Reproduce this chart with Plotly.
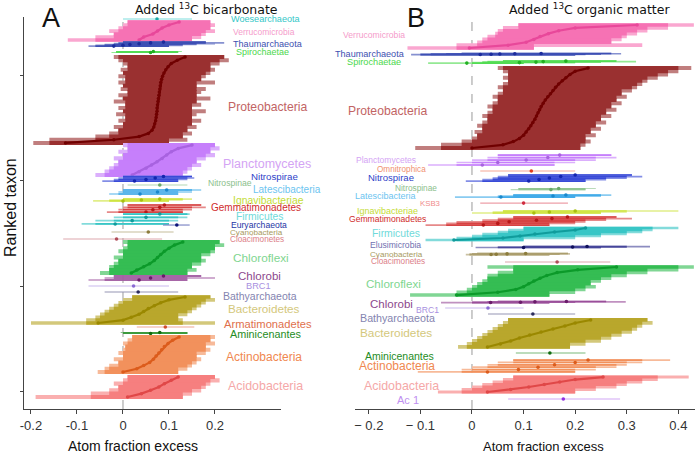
import plotly.graph_objects as go

# ---------------- DATA ----------------
A_TAXA = ["Woesearchaeota", "Verrucomicrobia", "Thaumarchaeota", "Spirochaetae", "Proteobacteria",
          "Planctomycetes", "Nitrospirae", "Nitrospinae", "Latescibacteria", "Ignavibacteriae",
          "Gemmatimonadetes", "Firmicutes", "Euryarchaeota", "Cyanobacteria", "Cloacimonetes",
          "Chloroflexi", "Chlorobi", "BRC1", "Bathyarchaeota", "Bacteroidetes", "Armatimonadetes",
          "Aminicenantes", "Actinobacteria", "Acidobacteria"]
A_RANK_TOP = [353.5, 350.6, 331.6, 322.7, 317.4, 234.0, 204.2, 196.1, 191.4, 182.8, 177.2, 168.6,
              158.2, 151.6, 144.9, 142.1, 109.9, 100.4, 94.7, 90.0, 61.5, 56.3, 52.0, 14.1]
A_RANK_BOTTOM = [353.5, 333.6, 327.8, 321.7, 236.0, 205.6, 199.9, 196.1, 187.6, 181.0, 170.5, 159.2,
                 158.2, 151.6, 144.9, 112.7, 106.1, 100.4, 94.7, 65.3, 61.5, 55.4, 18.9, -4.8]
A_EST = [
    [0.074],
    [0.035, 0.045, 0.065, 0.075, 0.085, 0.1, 0.122],
    [-0.02, 0.0, 0.015, 0.035, 0.06, 0.088],
    [0.06, 0.066],
    [-0.125, -0.02, 0.035, 0.055, 0.063, 0.067, 0.069, 0.071, 0.072, 0.073, 0.074, 0.074, 0.075, 0.076,
     0.077, 0.078, 0.079, 0.08, 0.081, 0.082, 0.084, 0.086, 0.089, 0.093, 0.098, 0.105, 0.118, 0.135],
    [0.02, 0.035, 0.05, 0.062, 0.074, 0.085, 0.095, 0.105, 0.12, 0.15],
    [0.025, 0.05, 0.07, 0.088],
    [0.08],
    [0.037, 0.075, 0.095],
    [0.0, 0.04, 0.08],
    [0.05, 0.065, 0.08, 0.09],
    [-0.017, 0.02, 0.05, 0.08],
    [0.117],
    [0.055],
    [-0.014],
    [0.018, 0.03, 0.045, 0.058, 0.068, 0.075, 0.082, 0.09, 0.1, 0.112, 0.13],
    [0.035, 0.06, 0.088],
    [0.023],
    [0.033],
    [-0.054, 0.0, 0.018, 0.035, 0.045, 0.055, 0.068, 0.082, 0.1, 0.135],
    [0.092],
    [0.06, 0.08],
    [0.0, 0.03, 0.045, 0.058, 0.066, 0.072, 0.078, 0.084, 0.09, 0.098, 0.108, 0.122],
    [0.01, 0.04, 0.06, 0.078, 0.09, 0.105, 0.12],
]
A_LO = [
    [0.0],
    [-0.12, -0.06, -0.02, -0.03, -0.01, 0.0, 0.01],
    [-0.075, -0.06, -0.04, -0.02, -0.01, 0.0],
    [-0.025, -0.015],
    [-0.195, -0.16, -0.06, -0.03, -0.01, -0.02, 0.0, -0.01, 0.005, -0.015, 0.0, -0.01, 0.005, -0.02,
     0.0, -0.01, 0.01, -0.005, 0.0, -0.01, 0.005, -0.01, 0.0, -0.005, 0.01, 0.0, -0.01, -0.02],
    [-0.06, -0.04, -0.03, -0.02, -0.01, -0.02, 0.0, -0.01, 0.01, 0.0],
    [-0.045, -0.02, -0.01, 0.0],
    [0.01],
    [-0.03, -0.01, 0.0],
    [-0.065, -0.03, 0.0],
    [-0.035, -0.01, 0.0, 0.01],
    [-0.09, -0.06, -0.02, 0.0],
    [0.087],
    [-0.025],
    [-0.13],
    [-0.05, -0.03, -0.03, -0.02, -0.01, -0.02, 0.0, -0.01, 0.0, 0.01, 0.0],
    [-0.075, -0.04, -0.02],
    [-0.075],
    [-0.04],
    [-0.2, -0.08, -0.06, -0.05, -0.04, -0.03, -0.02, -0.01, 0.0, 0.02],
    [0.03],
    [0.0, -0.005],
    [-0.055, -0.04, -0.03, -0.01, -0.02, 0.0, -0.01, 0.0, 0.005, 0.0, 0.01, 0.02],
    [-0.19, -0.07, -0.03, -0.01, -0.02, 0.0, 0.01],
]
A_HI = [
    [0.15],
    [0.15, 0.17, 0.18, 0.2, 0.19, 0.2, 0.19],
    [0.1, 0.13, 0.16, 0.2, 0.22, 0.18],
    [0.12, 0.128],
    [0.1, 0.14, 0.13, 0.15, 0.14, 0.16, 0.15, 0.17, 0.15, 0.16, 0.18, 0.15, 0.17, 0.16, 0.19, 0.16,
     0.17, 0.18, 0.16, 0.2, 0.17, 0.18, 0.19, 0.2, 0.19, 0.21, 0.23, 0.22],
    [0.13, 0.14, 0.15, 0.17, 0.16, 0.18, 0.2, 0.19, 0.21, 0.2],
    [0.12, 0.14, 0.155, 0.15],
    [0.14],
    [0.12, 0.15, 0.17],
    [0.1, 0.13, 0.15],
    [0.13, 0.15, 0.18, 0.17],
    [0.1, 0.12, 0.14, 0.145],
    [0.145],
    [0.11],
    [0.085],
    [0.14, 0.16, 0.15, 0.17, 0.18, 0.17, 0.19, 0.2, 0.2, 0.22, 0.21],
    [0.14, 0.2, 0.17],
    [0.1],
    [0.12],
    [0.2, 0.13, 0.12, 0.14, 0.15, 0.16, 0.17, 0.18, 0.2, 0.19],
    [0.155],
    [0.14, 0.14],
    [0.12, 0.14, 0.15, 0.16, 0.17, 0.16, 0.18, 0.19, 0.18, 0.2, 0.19, 0.2],
    [0.13, 0.15, 0.17, 0.18, 0.19, 0.21, 0.2],
]

B_TAXA = ["Verrucomicrobia", "Thaumarchaeota", "Spirochaetae", "Proteobacteria", "Planctomycetes",
          "Omnitrophica", "Nitrospirae", "Nitrospinae", "Latescibacteria", "KSB3", "Ignavibacteriae",
          "Gemmatimonadetes", "Firmicutes", "Elusimicrobia", "Cyanobacteria", "Cloacimonetes",
          "Chloroflexi", "Chlorobi", "BRC1", "Bathyarchaeota", "Bacteroidetes", "Aminicenantes",
          "Actinobacteria", "Acidobacteria", "Ac 1"]
B_RANK_TOP = [347.8, 320.8, 313.6, 307.0, 224.5, 209.4, 205.6, 192.8, 186.6, 179.0, 171.5, 165.8,
              155.4, 137.8, 131.2, 123.1, 118.4, 85.7, 79.5, 73.8, 68.2, 36.9, 30.2, 14.1, -6.7]
B_RANK_BOTTOM = [326.0, 319.8, 311.7, 231.2, 215.1, 209.4, 199.9, 191.8, 184.7, 179.0, 169.6, 158.2,
                 144.0, 136.9, 130.2, 123.1, 91.8, 84.7, 79.5, 73.8, 42.6, 36.9, 18.9, -0.1, -6.7]
B_EST = [
    [-0.005, 0.07, 0.105, 0.12, 0.132, 0.148, 0.168, 0.2, 0.32],
    [0.016, 0.037, 0.054, 0.083, 0.134],
    [-0.01, 0.092, 0.124, 0.138, 0.182],
    [0.0, 0.06, 0.08, 0.092, 0.1, 0.105, 0.11, 0.114, 0.118, 0.122, 0.125, 0.128, 0.131, 0.134, 0.138,
     0.142, 0.147, 0.152, 0.157, 0.162, 0.168, 0.175, 0.182, 0.19, 0.2, 0.225],
    [0.02, 0.05, 0.105, 0.147, 0.17],
    [0.115],
    [0.11, 0.13, 0.15, 0.172, 0.2],
    [0.153, 0.168],
    [0.056, 0.157, 0.182],
    [0.1],
    [0.12, 0.15, 0.2],
    [0.022, 0.05, 0.072, 0.125, 0.155, 0.185],
    [-0.035, 0.06, 0.093, 0.122, 0.16, 0.2, 0.22],
    [0.1, 0.195, 0.223],
    [0.037, 0.047, 0.068, 0.104],
    [0.165],
    [-0.03, 0.05, 0.085, 0.1, 0.11, 0.12, 0.132, 0.145, 0.165, 0.205, 0.28],
    [0.036, 0.094, 0.122, 0.183],
    [0.031],
    [0.118],
    [0.03, 0.055, 0.075, 0.092, 0.112, 0.134, 0.157, 0.18, 0.2, 0.23],
    [0.151],
    [0.03, 0.09, 0.128, 0.16, 0.2, 0.225],
    [0.03, 0.075, 0.11, 0.14, 0.17, 0.2, 0.254],
    [0.177],
]
B_LO = [
    [-0.125, -0.03, 0.01, 0.02, 0.03, 0.045, 0.05, 0.06, 0.09],
    [-0.118, -0.1, -0.08, -0.05, -0.02],
    [-0.085, 0.0, 0.02, 0.03, 0.06],
    [-0.11, -0.06, -0.02, 0.0, 0.01, 0.005, 0.02, 0.01, 0.02, 0.03, 0.02, 0.03, 0.04, 0.03, 0.04, 0.05,
     0.04, 0.05, 0.06, 0.05, 0.06, 0.07, 0.06, 0.07, 0.06, 0.05],
    [-0.085, -0.03, 0.0, 0.03, 0.05],
    [0.016],
    [-0.012, 0.02, 0.04, 0.05, 0.07],
    [0.075, 0.09],
    [-0.033, 0.05, 0.08],
    [0.016],
    [0.0, 0.04, 0.06],
    [-0.09, -0.05, -0.03, 0.02, 0.05, 0.08],
    [-0.09, -0.03, 0.0, 0.02, 0.05, 0.07, 0.1],
    [0.007, 0.05, 0.1],
    [-0.012, -0.005, 0.0, 0.01],
    [0.064],
    [-0.12, -0.03, -0.01, 0.0, 0.01, 0.02, 0.03, 0.03, 0.05, 0.08, 0.03],
    [-0.06, 0.0, 0.03, 0.05],
    [-0.052],
    [0.031],
    [-0.027, -0.01, 0.0, 0.01, 0.02, 0.03, 0.04, 0.05, 0.06, 0.07],
    [0.085],
    [-0.105, -0.02, 0.0, 0.03, 0.05, 0.08],
    [-0.066, -0.02, 0.0, 0.02, 0.04, 0.06, 0.08],
    [0.07],
]
B_HI = [
    [0.12, 0.33, 0.27, 0.29, 0.3, 0.32, 0.34, 0.38, 0.43],
    [0.2, 0.22, 0.25, 0.289, 0.27],
    [0.1, 0.2, 0.25, 0.318, 0.28],
    [0.21, 0.22, 0.23, 0.22, 0.24, 0.23, 0.25, 0.24, 0.26, 0.25, 0.27, 0.26, 0.28, 0.27, 0.29, 0.28,
     0.3, 0.29, 0.31, 0.32, 0.33, 0.34, 0.36, 0.38, 0.4, 0.425],
    [0.16, 0.2, 0.24, 0.28, 0.27],
    [0.2],
    [0.22, 0.26, 0.3, 0.33, 0.31],
    [0.22, 0.24],
    [0.2, 0.25, 0.27],
    [0.186],
    [0.25, 0.3, 0.4],
    [0.15, 0.2, 0.22, 0.26, 0.31, 0.28],
    [0.1, 0.2, 0.25, 0.3, 0.33, 0.35, 0.4],
    [0.25, 0.3, 0.345],
    [0.15, 0.17, 0.19, 0.186],
    [0.268],
    [0.15, 0.2, 0.22, 0.24, 0.23, 0.25, 0.27, 0.3, 0.34, 0.4, 0.43],
    [0.15, 0.2, 0.298, 0.26],
    [0.1],
    [0.2],
    [0.19, 0.22, 0.25, 0.27, 0.29, 0.31, 0.32, 0.33, 0.35, 0.34],
    [0.22],
    [0.2, 0.24, 0.28, 0.3, 0.33, 0.384],
    [0.2, 0.24, 0.28, 0.3, 0.33, 0.36, 0.42],
    [0.287],
]

A_XTICKS = [-0.2, -0.1, 0, 0.1, 0.2]
A_XTICKTEXT = ["-0.2", "-0.1", "0", "0.1", "0.2"]
B_XTICKS = [-0.2, -0.1, 0, 0.1, 0.2, 0.3, 0.4]
B_XTICKTEXT = ["\u2212 0.2", "\u2212 0.1", "0", "0.1", "0.2", "0.3", "0.4"]
Y_TICKS = [0, 100, 200, 300]

# ---------------- STYLE ----------------
COLORS = {  # band rgb, point, label
    "Woesearchaeota": ((40, 200, 200), "#1aa8a8", "#33c7c7"),
    "Verrucomicrobia": ((245, 95, 170), "#e8489a", "#f59ccb"),
    "Thaumarchaeota": ((35, 55, 170), "#1c2c9c", "#4050b0"),
    "Spirochaetae": ((60, 215, 60), "#22b022", "#4cd84c"),
    "Proteobacteria": ((140, 20, 20), "#700000", "#c26464"),
    "Planctomycetes": ((190, 110, 250), "#a862e0", "#d4a4f4"),
    "Nitrospirae": ((30, 50, 210), "#1426b0", "#2f3fc8"),
    "Nitrospinae": ((130, 190, 130), "#6aa86a", "#8cc08c"),
    "Latescibacteria": ((40, 160, 230), "#1a88cc", "#6cc4f0"),
    "Ignavibacteriae": ((200, 225, 40), "#a8c010", "#c4dc38"),
    "Gemmatimonadetes": ((210, 40, 40), "#b81818", "#d02c2c"),
    "Firmicutes": ((30, 190, 190), "#109c9c", "#70dada"),
    "Euryarchaeota": ((25, 40, 150), "#0c1478", "#2535a5"),
    "Cyanobacteria": ((160, 145, 90), "#8c7c3c", "#a89a60"),
    "Cloacimonetes": ((200, 110, 120), "#b04c58", "#dc8088"),
    "Chloroflexi": ((25, 180, 60), "#0c9a2a", "#7ed690"),
    "Chlorobi": ((140, 55, 140), "#6a1c6a", "#8c488c"),
    "BRC1": ((165, 140, 225), "#8a6ad4", "#a890e0"),
    "Bathyarchaeota": ((80, 80, 130), "#2c2c5c", "#8484b0"),
    "Bacteroidetes": ((175, 155, 15), "#9a8800", "#d4c87c"),
    "Armatimonadetes": ((225, 110, 80), "#d04c2c", "#e0704c"),
    "Aminicenantes": ((35, 140, 35), "#106a10", "#248c24"),
    "Actinobacteria": ((240, 130, 70), "#dc5c1c", "#f08850"),
    "Acidobacteria": ((245, 110, 110), "#e04848", "#f5a8a8"),
    "Omnitrophica": ((240, 110, 80), "#e03c1c", "#f09070"),
    "KSB3": ((225, 95, 110), "#d02c40", "#f08c8c"),
    "Elusimicrobia": ((45, 45, 140), "#10105c", "#7070b0"),
    "Ac 1": ((180, 110, 240), "#9030e0", "#c090f0"),
}
OUTER_ALPHA, INNER_ALPHA = 0.55, 0.88

# label placement (page pixel positions, font size)
A_LABELS = {
    "Woesearchaeota": (230, 19.5, 9.1), "Verrucomicrobia": (232, 32, 8.5),
    "Thaumarchaeota": (232, 44, 9.1), "Spirochaetae": (235, 52, 9.0),
    "Proteobacteria": (227, 107, 12.2), "Planctomycetes": (222, 164, 12.5),
    "Nitrospirae": (250, 176, 9.7), "Nitrospinae": (207, 183, 8.6),
    "Latescibacteria": (252, 190, 10.0), "Ignavibacteriae": (232, 200.5, 10.4),
    "Gemmatimonadetes": (210, 207.5, 10.0), "Firmicutes": (235, 216.5, 10.3),
    "Euryarchaeota": (230, 224.5, 8.6), "Cyanobacteria": (229, 232, 8.1),
    "Cloacimonetes": (229, 239.5, 8.2), "Chloroflexi": (232, 258, 11.8),
    "Chlorobi": (237, 276, 11.5), "BRC1": (245, 286, 9.2),
    "Bathyarchaeota": (222, 295.5, 10.5), "Bacteroidetes": (227, 308, 11.7),
    "Armatimonadetes": (223, 324, 11.2), "Aminicenantes": (229, 334, 10.8),
    "Actinobacteria": (225, 357, 12.0), "Acidobacteria": (227, 386, 12.4),
}
B_LABELS = {
    "Verrucomicrobia": (406, 35, 8.6), "Thaumarchaeota": (406, 54, 9.1),
    "Spirochaetae": (402, 62, 9.2), "Proteobacteria": (428, 111, 12.2),
    "Planctomycetes": (417, 160, 8.5), "Omnitrophica": (427, 169, 8.2),
    "Nitrospirae": (415, 178, 9.5), "Nitrospinae": (438, 188, 8.3),
    "Latescibacteria": (417, 196, 9.0), "KSB3": (441, 204, 7.8),
    "Ignavibacteriae": (419, 211, 9.0), "Gemmatimonadetes": (427, 219, 8.6),
    "Firmicutes": (421, 233, 10.4), "Elusimicrobia": (422, 245, 8.6),
    "Cyanobacteria": (424, 254, 8.1), "Cloacimonetes": (426, 261.5, 8.2),
    "Chloroflexi": (422, 283, 11.6), "Chlorobi": (414, 304, 11.5),
    "BRC1": (440, 310, 8.6), "Bathyarchaeota": (436, 318, 10.7),
    "Bacteroidetes": (433, 333, 11.8), "Aminicenantes": (435, 355.5, 10.5),
    "Actinobacteria": (436, 365.5, 12.0), "Acidobacteria": (440, 386, 12.4),
    "Ac 1": (420, 400, 11.0),
}

W, H = 696, 454
PLOT_TOP, PLOT_BOTTOM = 17, 409
Y_RANGE = [-16.2, 355.4]
PX_PER_RANK = (PLOT_BOTTOM - PLOT_TOP) / (Y_RANGE[1] - Y_RANGE[0])
FONT = "Liberation Sans, Arial, sans-serif"


def fx(px):
    return px / W


def fy(py):
    return 1 - py / H


def tint(rgb, a):
    r, g, b = (round(c * a + 255 * (1 - a)) for c in rgb)
    return f"rgb({r},{g},{b})"


fig = go.Figure()


def add_panel(taxa, tops, bottoms, ests, los, his, xa, ya):
    for name, top, bot, est, lo, hi in zip(taxa, tops, bottoms, ests, los, his):
        assert len(est) == len(lo) == len(hi)
        rgb, point, _ = COLORS[name]
        n = len(est)
        if n > 1:
            step = (top - bot) / (n - 1)
            ranks = [bot + i * step for i in range(n)]
            spacing_px = step * PX_PER_RANK
        else:
            ranks = [top]
            spacing_px = 0
        span_px = (top - bot) * PX_PER_RANK
        big = span_px >= 12
        width = max(1.2, spacing_px * 1.25) if big else (1.7 if n > 2 else 1.1)
        # outer: full interval of each ranked taxon
        sx, sy = [], []
        for r, a, b in zip(ranks, lo, hi):
            sx += [a, b, None]
            sy += [r, r, None]
        fig.add_trace(go.Scatter(x=sx, y=sy, mode="lines", xaxis=xa, yaxis=ya,
                                 line=dict(color=tint(rgb, OUTER_ALPHA if n > 1 else 0.6), width=width),
                                 hoverinfo="skip"))
        # inner: where neighbouring intervals overlap (denser region)
        if n > 1:
            ix, iy = [], []
            for i, r in enumerate(ranks):
                nb = range(max(0, i - 1), min(n, i + 2))
                a = max(lo[j] for j in nb)
                b = min(hi[j] for j in nb)
                if b > a:
                    ix += [a, b, None]
                    iy += [r, r, None]
            fig.add_trace(go.Scatter(x=ix, y=iy, mode="lines", xaxis=xa, yaxis=ya,
                                     line=dict(color=tint(rgb, INNER_ALPHA), width=width),
                                     hoverinfo="skip"))
        if big:
            fig.add_trace(go.Scatter(x=est, y=ranks, mode="lines+markers", xaxis=xa, yaxis=ya,
                                     line=dict(color=point, width=2.2),
                                     marker=dict(color=point, size=3.5), hoverinfo="skip"))
        else:
            fig.add_trace(go.Scatter(x=est, y=ranks, mode="markers", xaxis=xa, yaxis=ya,
                                     marker=dict(color=point, size=3.6), hoverinfo="skip"))


add_panel(A_TAXA, A_RANK_TOP, A_RANK_BOTTOM, A_EST, A_LO, A_HI, "x", "y")
add_panel(B_TAXA, B_RANK_TOP, B_RANK_BOTTOM, B_EST, B_LO, B_HI, "x2", "y2")

ydom = [fy(PLOT_BOTTOM), fy(PLOT_TOP)]
axis_common = dict(showgrid=False, zeroline=False, showline=True, linecolor="#444", linewidth=1,
                   ticks="outside", tickcolor="#444", ticklen=4, tickwidth=1,
                   tickfont=dict(family=FONT, size=13, color="#333"))
fig.update_layout(
    width=W, height=H, margin=dict(l=0, r=0, t=0, b=0, autoexpand=False),
    paper_bgcolor="white", plot_bgcolor="white", showlegend=False, hovermode=False,
    xaxis=dict(domain=[fx(24), fx(281)], range=[-0.2152, 0.3435], anchor="y",
               tickvals=A_XTICKS, ticktext=A_XTICKTEXT, **axis_common),
    yaxis=dict(domain=ydom, range=Y_RANGE, anchor="x", showgrid=False, zeroline=False,
               showline=True, linecolor="#444", linewidth=1, ticks="outside", ticklen=3,
               tickcolor="#444", tickvals=Y_TICKS, showticklabels=False),
    xaxis2=dict(domain=[fx(355), fx(695)], range=[-0.2267, 0.4322], anchor="y2",
                tickvals=B_XTICKS, ticktext=B_XTICKTEXT, **axis_common),
    yaxis2=dict(domain=ydom, range=Y_RANGE, anchor="x2", visible=False),
)

for xr, yr in (("x", "y domain"), ("x2", "y2 domain")):
    fig.add_shape(type="line", xref=xr, yref=yr, x0=0, x1=0, y0=0, y1=1, layer="below",
                  line=dict(color="#9a9a9a", width=1, dash="dash"))


def px_ann(text, x, y, size, color="#111", xanchor="center", family=FONT, **kw):
    fig.add_annotation(text=text, x=fx(x), y=fy(y), xref="paper", yref="paper",
                       showarrow=False, xanchor=xanchor, yanchor="middle",
                       font=dict(family=family, size=size, color=color), borderpad=0, **kw)


for name, (x, y, s) in A_LABELS.items():
    px_ann(name, x, y, s, COLORS[name][2], xanchor="left")
for name, (x, y, s) in B_LABELS.items():
    px_ann(name, x, y, s, COLORS[name][2], xanchor="right")

px_ann("A", 51, 18, 27, "#111")
px_ann("B", 416, 18, 27, "#111")
px_ann("Added <sup>13</sup>C bicarbonate", 206, 9, 12.5, "#111", family="DejaVu Sans, sans-serif")
px_ann("Added <sup>13</sup>C organic matter", 589, 9, 12.5, "#111", family="DejaVu Sans, sans-serif")
px_ann("Atom fraction excess", 133, 446, 14, "#111")
px_ann("Atom fraction excess", 543, 446, 13, "#111")
px_ann("Ranked taxon", 10, 208, 16, "#111", textangle=-90)

# remove the default 8px page margin so the figure fills the window exactly
fig.write_html("out.html", config={"displayModeBar": False, "staticPlot": True},
               post_script="document.body.style.margin='0';"
                           "document.body.style.overflow='hidden';")
